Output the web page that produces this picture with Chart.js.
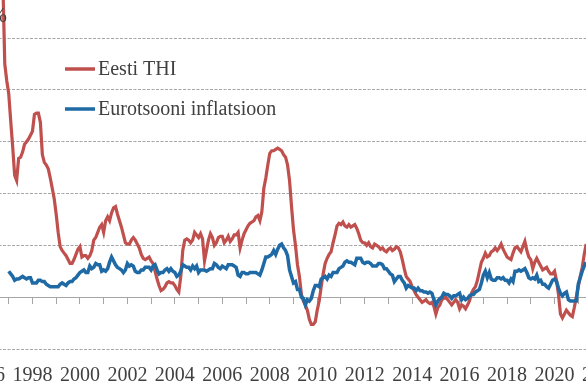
<!DOCTYPE html>
<html>
<head>
<meta charset="utf-8">
<script src="https://cdn.jsdelivr.net/npm/chart.js@4.4.1/dist/chart.umd.min.js"></script>
<style>
	body { margin: 0; background: #fff; overflow: hidden; }
	#wrap { position: relative; width: 586px; height: 390px; overflow: hidden; }
	#inner { position: absolute; left: -45px; top: 0; width: 677px; height: 390px; }
</style>
</head>
<body>
<div id="wrap"><div id="inner"><canvas id="chart"></canvas></div></div>
<script>
// kuised andmed, algus jaanuar 1996
const algusAasta = 1996;
const aastaSildid = [1996, 1998, 2000, 2002, 2004, 2006, 2008, 2010, 2012, 2014, 2016, 2018, 2020, 2022];

const eestiThi = [
	28.5, 28.0, 27.5, 27.0, 26.5, 26.0, 25.5, 25.5, 25.0, 24.5, 18.0, 16.7,
	15.7, 13.6, 11.6, 9.4, 9.0, 10.7, 10.8, 11.2, 11.8, 12.0, 12.2, 12.5,
	12.8, 14.1, 14.2, 14.2, 13.5, 11.0, 10.4, 10.2, 9.9, 9.2, 8.4, 7.6,
	6.4, 5.0, 3.9, 3.6, 3.4, 3.2, 2.9, 2.6, 2.6, 2.9, 3.3, 3.7,
	3.9, 3.1, 3.2, 3.2, 3.0, 3.2, 3.6, 4.4, 4.6, 5.0, 5.4, 5.6,
	5.0, 5.9, 6.2, 5.9, 6.5, 6.9, 7.0, 6.4, 5.9, 5.4, 4.8, 4.2,
	4.1, 4.1, 4.4, 4.6, 4.4, 4.1, 3.8, 3.3, 3.0, 2.9, 3.0, 3.1,
	2.8, 2.6, 2.0, 1.4, 0.9, 0.5, 0.6, 0.8, 1.1, 1.2, 1.1, 1.1,
	0.9, 0.6, 0.4, 1.6, 3.6, 4.4, 4.5, 4.4, 4.2, 4.4, 5.0, 4.8,
	4.6, 4.9, 4.5, 2.8, 3.6, 4.4, 4.9, 4.6, 4.0, 4.2, 4.6, 4.7,
	4.7, 4.2, 4.4, 4.7, 4.3, 4.5, 4.8, 4.8, 5.0, 3.8, 4.4, 4.9,
	5.2, 5.5, 5.7, 5.8, 5.9, 6.2, 6.3, 5.9, 6.6, 8.4, 9.2, 10.2,
	11.1, 11.3, 11.3, 11.4, 11.5, 11.4, 11.3, 11.0, 10.8, 10.2, 9.0, 7.0,
	5.2, 4.0, 2.5, 1.6, 0.2, -0.3, -0.6, -1.0, -1.7, -2.1, -2.1, -1.9,
	-1.0, -0.3, 0.8, 1.8, 2.6, 3.0, 3.3, 3.5, 4.2, 4.8, 5.5, 5.7,
	5.6, 5.8, 5.5, 5.4, 5.6, 5.4, 5.5, 5.6, 5.3, 4.9, 4.4, 4.2,
	4.2, 4.0, 4.2, 3.9, 3.8, 4.1, 4.0, 3.9, 3.7, 3.8, 3.6, 3.5,
	3.7, 3.8, 3.6, 3.7, 3.9, 3.8, 3.5, 2.9, 2.2, 1.6, 1.4, 1.2,
	0.8, 0.5, 0.2, 0.0, -0.2, -0.4, -0.3, -0.2, -0.4, -0.5, -0.4, -0.7,
	-1.3, -0.8, -0.6, -0.2, -0.1, 0.0, -0.2, -0.4, -0.6, -0.4, -0.2, -0.4,
	-0.9, -0.6, -0.7, -0.9, -0.6, -0.3, 0.3, 0.6, 0.8, 1.3, 2.0, 2.7,
	3.0, 3.4, 3.1, 3.2, 3.5, 3.6, 3.8, 3.6, 3.8, 4.1, 3.7, 3.4,
	3.1, 3.0, 2.9, 3.4, 3.8, 3.9, 3.7, 3.5, 3.9, 4.3, 3.6, 3.1,
	2.9, 2.2, 2.7, 3.0, 2.7, 2.4, 2.1, 2.2, 2.3, 2.0, 1.8, 1.8,
	2.0, 1.3, 0.2, -1.3, -1.6, -1.3, -1.0, -1.2, -1.4, -1.5, -0.8, 0.0,
	0.8, 1.6, 2.3, 3.3, 4.1
];

const eurotsoon = [
	null, null, null, null, null, null, null, null, null, null, null, null,
	2.0, 1.8, 1.6, 1.3, 1.4, 1.4, 1.5, 1.6, 1.5, 1.4, 1.5, 1.5,
	1.1, 1.1, 1.1, 1.3, 1.3, 1.2, 1.2, 1.0, 0.9, 0.8, 0.8, 0.8,
	0.8, 0.8, 1.0, 1.1, 1.0, 0.9, 1.1, 1.2, 1.2, 1.4, 1.5, 1.7,
	1.9, 2.0, 2.1, 1.9, 1.9, 2.4, 2.2, 2.3, 2.6, 2.5, 2.5, 2.0,
	2.1, 2.0, 2.2, 2.7, 3.1, 2.8, 2.5, 2.3, 2.2, 2.1, 1.9, 2.1,
	2.6, 2.4, 2.5, 2.4, 2.0, 1.9, 1.9, 2.1, 2.1, 2.3, 2.3, 2.3,
	2.1, 2.4, 2.5, 2.1, 1.8, 1.9, 1.9, 2.1, 2.2, 2.0, 2.2, 2.0,
	1.9, 1.6, 1.7, 2.0, 2.5, 2.4, 2.3, 2.3, 2.1, 2.4, 2.2, 2.4,
	1.9, 2.1, 2.1, 2.1, 2.0, 2.1, 2.2, 2.2, 2.6, 2.5, 2.3, 2.2,
	2.4, 2.3, 2.2, 2.5, 2.5, 2.5, 2.4, 2.3, 1.7, 1.6, 1.9, 1.9,
	1.8, 1.8, 1.9, 1.9, 1.9, 1.9, 1.8, 1.7, 2.1, 2.6, 3.1, 3.1,
	3.2, 3.3, 3.6, 3.3, 3.7, 4.0, 4.1, 3.8, 3.6, 3.2, 2.1, 1.6,
	1.1, 1.2, 0.6, 0.6, 0.0, -0.1, -0.6, -0.2, -0.3, -0.1, 0.5, 0.9,
	0.9, 0.8, 1.4, 1.5, 1.6, 1.4, 1.7, 1.6, 1.9, 1.9, 1.9, 2.2,
	2.3, 2.4, 2.7, 2.8, 2.7, 2.7, 2.6, 2.5, 3.0, 3.0, 3.0, 2.7,
	2.6, 2.7, 2.7, 2.6, 2.4, 2.4, 2.4, 2.6, 2.6, 2.5, 2.2, 2.2,
	2.0, 1.8, 1.7, 1.2, 1.4, 1.6, 1.6, 1.3, 1.1, 0.7, 0.9, 0.8,
	0.7, 0.7, 0.5, 0.7, 0.5, 0.5, 0.4, 0.4, 0.3, 0.4, 0.3, -0.2,
	-0.6, -0.3, -0.1, 0.0, 0.3, 0.2, 0.2, 0.1, -0.1, 0.1, 0.1, 0.2,
	0.3, -0.2, 0.0, -0.2, -0.1, 0.1, 0.2, 0.2, 0.4, 0.5, 0.6, 1.1,
	1.7, 2.0, 1.5, 1.9, 1.4, 1.3, 1.3, 1.5, 1.5, 1.4, 1.5, 1.3,
	1.3, 1.1, 1.4, 1.2, 2.0, 2.0, 2.1, 2.0, 2.1, 2.2, 1.9, 1.5,
	1.4, 1.5, 1.4, 1.7, 1.2, 1.3, 1.0, 1.0, 0.8, 0.7, 1.0, 1.3,
	1.4, 1.2, 0.7, 0.3, 0.1, 0.3, 0.4, -0.2, -0.3, -0.3, -0.3, -0.3,
	1.0, 1.5, 2.0, 2.4, 2.7
];

const punasene = "#c0504d";
const sinine = "#1f6aa5";
const tekstiVarv = "#404040";
const joonVarv = "#a6a6a6";
const font = "'Liberation Serif', 'Times New Roman', serif";

function punktid(andmed)
{
	return andmed.map((v, i) => ({ x: algusAasta + i / 12, y: v }));
}

// legend ja "%" otse joonisele
const sisuLegend = {
	id: "sisuLegend",
	afterDraw(chart)
	{
		const ctx = chart.ctx;
		const ala = chart.chartArea;
		ctx.save();
		ctx.font = "20px " + font;
		ctx.textBaseline = "middle";
		chart.data.datasets.forEach((ds, i) => {
			let y = ala.top + 31 + i * 40;
			let x = ala.left + 80;
			ctx.strokeStyle = ds.borderColor;
			ctx.lineWidth = 3.5;
			ctx.beginPath();
			ctx.moveTo(x, y);
			ctx.lineTo(x + 30, y);
			ctx.stroke();
			ctx.fillStyle = tekstiVarv;
			ctx.textAlign = "left";
			ctx.fillText(ds.label, x + 33, y + 1);
		});
		ctx.textAlign = "right";
		ctx.fillStyle = tekstiVarv;
		ctx.fillText("%", ala.left + 22, 17);
		ctx.restore();
	}
};

new Chart(document.getElementById("chart"), {
	type: "line",
	data: {
		datasets: [
			{
				label: "Eesti THI",
				data: punktid(eestiThi),
				borderColor: punasene,
				borderWidth: 3.2,
				pointRadius: 0,
				tension: 0,
				clip: false,
				order: 1
			},
			{
				label: "Eurotsooni inflatsioon",
				data: punktid(eurotsoon),
				borderColor: sinine,
				borderWidth: 3.5,
				pointRadius: 0,
				tension: 0,
				clip: false,
				order: 0
			}
		]
	},
	options: {
		responsive: true,
		maintainAspectRatio: false,
		animation: false,
		devicePixelRatio: 1,
		layout: {
			autoPadding: false,
			padding: { left: 30, right: 30, top: 38, bottom: 0 }
		},
		plugins: {
			legend: { display: false },
			tooltip: { enabled: false }
		},
		scales: {
			x: {
				type: "linear",
				position: "bottom",
				min: 1996,
				max: 2022,
				afterFit: (s) => { s.height = 41; },
				grid: { display: false },
				border: { display: false },
				ticks: {
					stepSize: 1,
					autoSkip: false,
					maxRotation: 0,
					padding: 7,
					color: tekstiVarv,
					font: { family: font, size: 20 },
					callback: (v) => aastaSildid.includes(Math.round(v)) ? String(Math.round(v)) : ""
				}
			},
			x2: {
				type: "linear",
				axis: "x",
				position: { y: 0 },
				min: 1996,
				max: 2022,
				grid: {
					drawOnChartArea: false,
					drawTicks: true,
					tickLength: 6,
					color: joonVarv
				},
				border: { display: true, color: joonVarv, width: 1 },
				ticks: { display: false, stepSize: 1, autoSkip: false }
			},
			y: {
				min: -4,
				max: 20,
				afterFit: (s) => { s.width = 0; },
				ticks: { display: false, stepSize: 4 },
				grid: {
					drawTicks: false,
					lineWidth: 1,
					color: (c) => c.tick && c.tick.value === 0 ? "rgba(0,0,0,0)" : joonVarv
				},
				border: { display: false, dash: [3, 1.5] }
			}
		}
	},
	plugins: [sisuLegend]
});
</script>
</body>
</html>
